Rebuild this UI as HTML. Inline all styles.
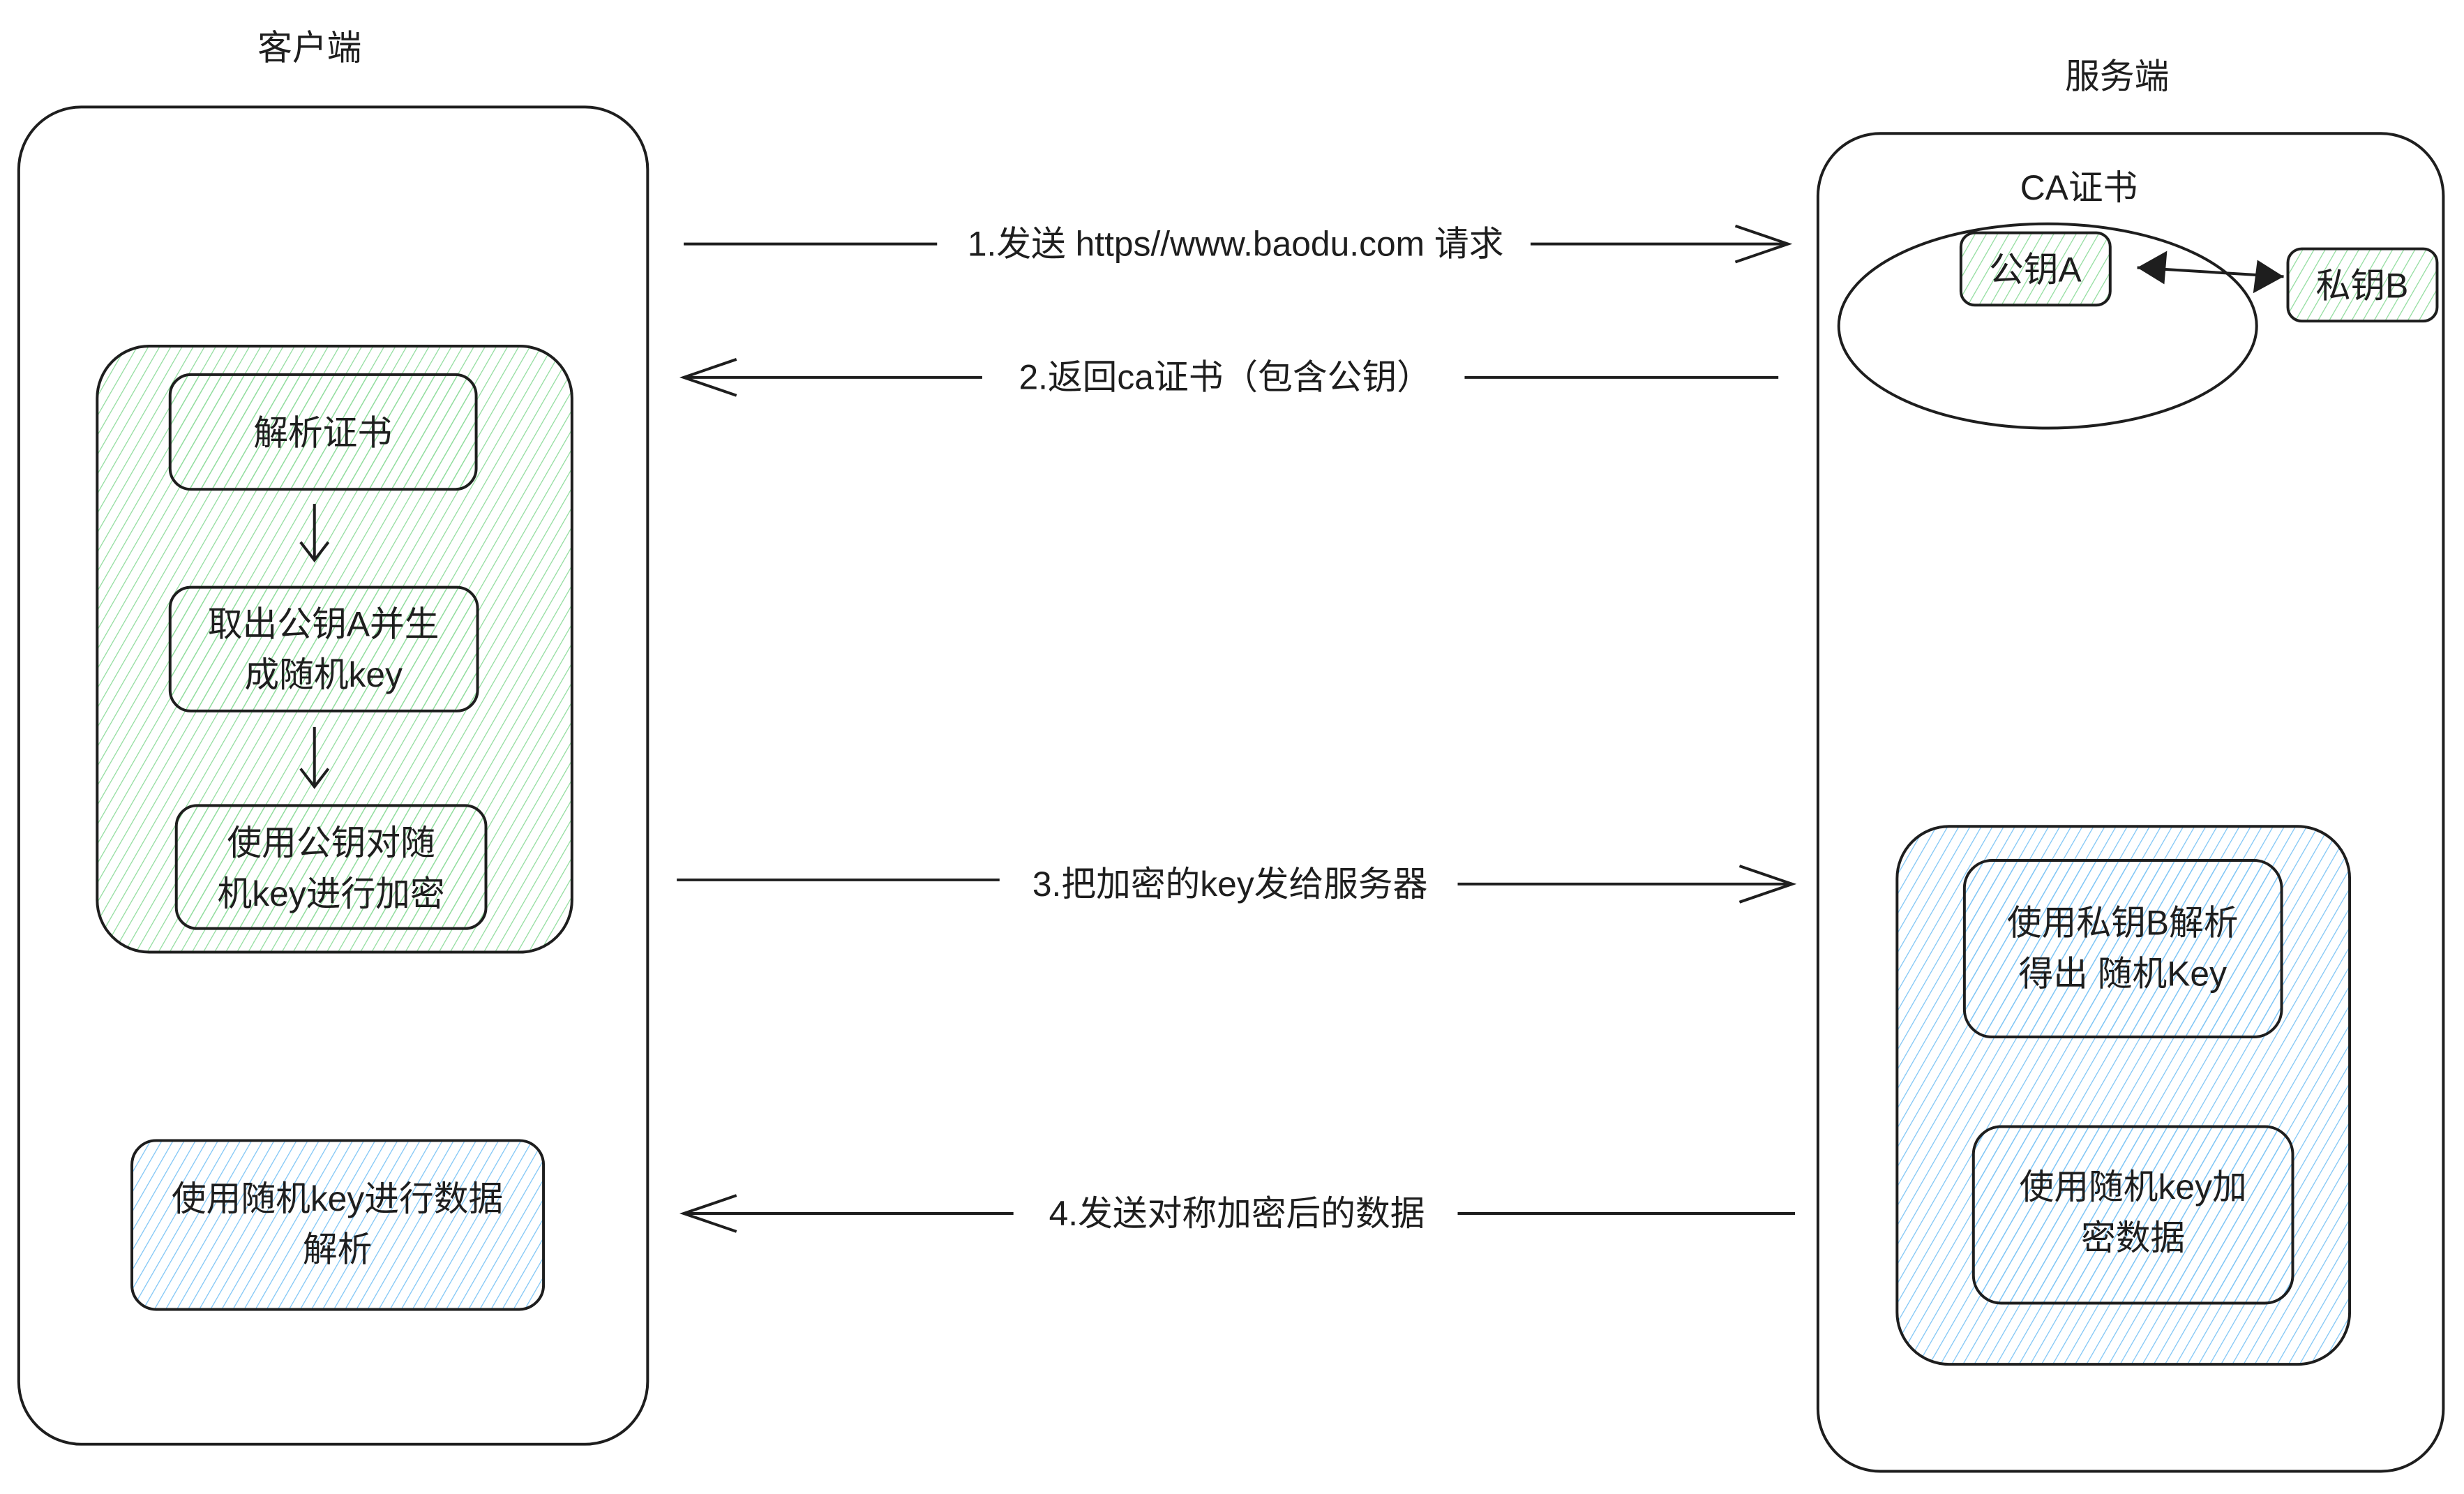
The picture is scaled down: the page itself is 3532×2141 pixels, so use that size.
<!DOCTYPE html>
<html><head><meta charset="utf-8"><style>
html,body{margin:0;padding:0;background:#fff;}
svg text{font-family:"Liberation Sans","Noto Sans CJK SC",sans-serif;fill:#1e1e1e;}
</style></head><body>
<svg width="3532" height="2136" viewBox="0 0 3532 2136" xmlns="http://www.w3.org/2000/svg">
<defs>
<pattern id="g" width="14" height="14" patternUnits="userSpaceOnUse" patternTransform="rotate(30)">
<line x1="0" y1="0" x2="0" y2="14" stroke="#8fdc9c" stroke-width="2.5"/></pattern>
<pattern id="b" width="14" height="14" patternUnits="userSpaceOnUse" patternTransform="rotate(30)">
<line x1="0" y1="0" x2="0" y2="14" stroke="#7cc4f5" stroke-width="2.5"/></pattern>
</defs>
<g transform="scale(0.995 0.996)">
<g fill="none" stroke="#1e1e1e" stroke-width="4">
<rect x="27" y="154" width="906" height="1924" rx="90"/>
<rect x="2619" y="192" width="901" height="1925" rx="90"/>
<rect x="140" y="498" width="684" height="872" rx="75" fill="url(#g)"/>
<rect x="245" y="539" width="441" height="165" rx="30" fill="url(#g)"/>
<rect x="245" y="845" width="443" height="178" rx="30" fill="url(#g)"/>
<rect x="254" y="1159" width="446" height="177" rx="30" fill="url(#g)"/>
<rect x="190" y="1641" width="593" height="243" rx="35" fill="url(#b)"/>
<ellipse cx="2950" cy="469" rx="301" ry="147"/>
<rect x="2825" y="335" width="215" height="104" rx="20" fill="url(#g)"/>
<rect x="3296" y="358" width="215" height="104" rx="20" fill="url(#g)"/>
<rect x="2733" y="1189" width="652" height="774" rx="75" fill="url(#b)"/>
<rect x="2830" y="1238" width="457" height="254" rx="40" fill="url(#b)"/>
<rect x="2843" y="1621" width="460" height="254" rx="40" fill="url(#b)"/>
<path d="M453 725 L453 806 M433 780 L453 806 L473 780"/>
<path d="M453 1046 L453 1132 M433 1106 L453 1132 L473 1106"/>
<line x1="3079" y1="385" x2="3290" y2="398"/>
<path d="M985 351 L1350 351 M2205 351 L2576 351 M2500 325 L2576 351 L2500 377"/>
<path d="M985 543 L1415 543 M2110 543 L2562 543 M1061 517 L985 543 L1061 569"/>
<path d="M975 1266 L1440 1266 M2100 1272 L2582 1272 M2506 1246 L2582 1272 L2506 1298"/>
<path d="M985 1746 L1460 1746 M2100 1746 L2586 1746 M1061 1720 L985 1746 L1061 1772"/>
</g>
<path d="M3079 385 L3122 361 L3118 409 Z M3290 398 L3246 422 L3252 374 Z" fill="#1e1e1e"/>
<g font-size="50" text-anchor="middle">
<text x="446" y="86">客户端</text>
<text x="3050" y="127">服务端</text>
<text x="2995" y="287">CA证书</text>
<text x="2932" y="405">公钥A</text>
<text x="3403" y="428">私钥B</text>
<text x="465" y="640">解析证书</text>
<text x="466" y="915">取出公钥A并生</text>
<text x="466" y="988">成随机key</text>
<text x="477" y="1230">使用公钥对随</text>
<text x="477" y="1303">机key进行加密</text>
<text x="486" y="1742">使用随机key进行数据</text>
<text x="486" y="1815">解析</text>
<text x="3058" y="1345">使用私钥B解析</text>
<text x="3058" y="1418">得出 随机Key</text>
<text x="3073" y="1725">使用随机key加</text>
<text x="3073" y="1798">密数据</text>
<text x="1780" y="368">1.发送 https//www.baodu.com 请求</text>
<text x="1765" y="560">2.返回ca证书（包含公钥）</text>
<text x="1772" y="1289">3.把加密的key发给服务器</text>
<text x="1782" y="1763">4.发送对称加密后的数据</text>
</g>
</g>
</svg>
</body></html>
